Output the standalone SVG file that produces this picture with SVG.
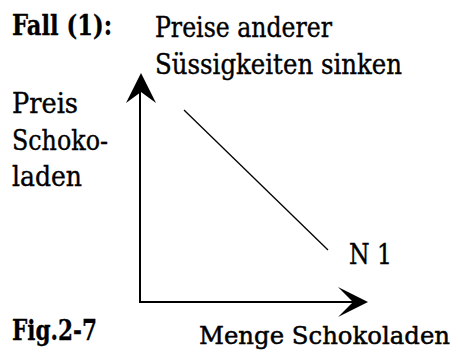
<svg xmlns="http://www.w3.org/2000/svg" width="458" height="356" viewBox="0 0 458 356">
<style>
.t{font-family:"DejaVu Serif","Liberation Serif",serif;font-size:27px;fill:#000;stroke:#000;stroke-width:0.4}
.b{font-weight:bold;stroke-width:0.3}
.s{font-size:25px;stroke-width:0.5}
</style>
<rect width="458" height="356" fill="#fff"/>
<g id="labels">
<text class="t b" x="12" y="35" textLength="100" lengthAdjust="spacingAndGlyphs">Fall (1):</text>
<text class="t" x="155" y="37" textLength="177" lengthAdjust="spacingAndGlyphs">Preise anderer</text>
<text class="t" x="155" y="74" textLength="247" lengthAdjust="spacingAndGlyphs">Süssigkeiten sinken</text>
<text class="t" x="12" y="113" textLength="66" lengthAdjust="spacingAndGlyphs">Preis</text>
<text class="t" x="12" y="150" textLength="96" lengthAdjust="spacingAndGlyphs">Schoko-</text>
<text class="t" x="12" y="186" textLength="70" lengthAdjust="spacingAndGlyphs">laden</text>
<text class="t b" x="12" y="340" textLength="85" lengthAdjust="spacingAndGlyphs">Fig.2-7</text>
<text class="t s" x="199" y="344" textLength="251" lengthAdjust="spacingAndGlyphs">Menge Schokoladen</text>
</g>
<g id="N1">
<line x1="184" y1="110" x2="328" y2="250" stroke="#000" stroke-width="1.3"/>
<text class="t" x="349" y="264" textLength="43" lengthAdjust="spacingAndGlyphs">N 1</text>
</g>
<g id="axes">
<polyline points="140,85 140,302 360,302" stroke="#000" stroke-width="2" fill="none"/>
<path d="M141,73 L156,103 L141,92 L126,103 Z" fill="#000"/>
<path d="M368,302 L338,287 L353,302 L338,317 Z" fill="#000"/>
</g>
</svg>
